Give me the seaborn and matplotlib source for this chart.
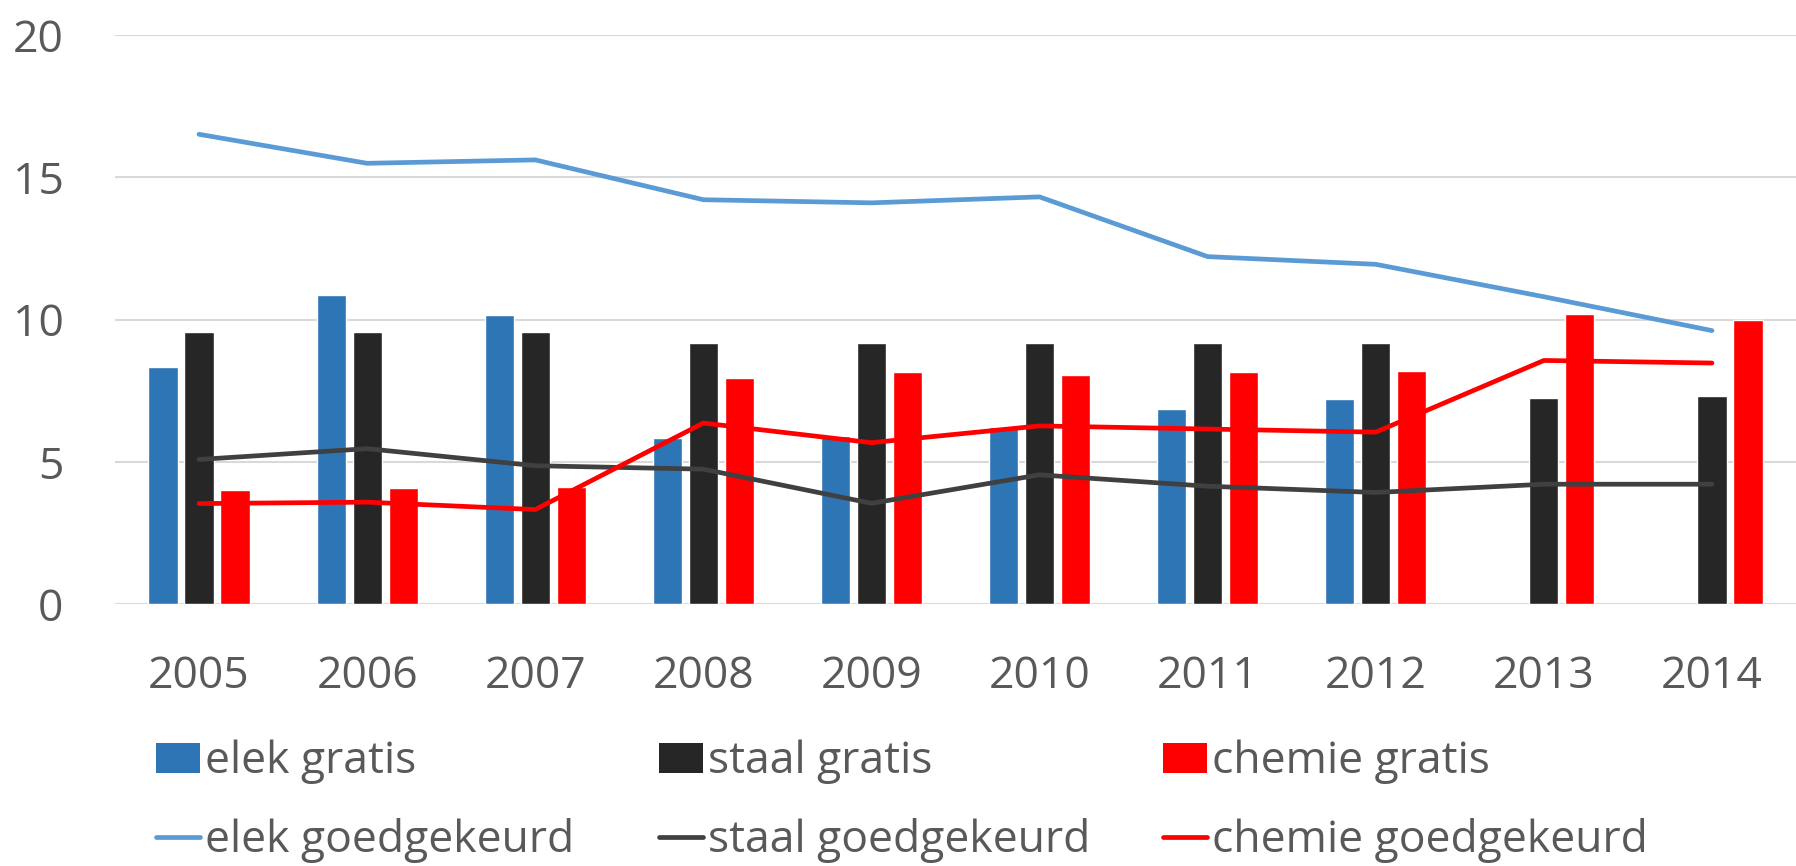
import numpy as np
import pandas as pd
import matplotlib
matplotlib.use("Agg")
import matplotlib.pyplot as plt
import seaborn as sns
from matplotlib.patches import Patch
from matplotlib.lines import Line2D

years = ["2005", "2006", "2007", "2008", "2009", "2010", "2011", "2012", "2013", "2014"]
elek_gratis = [8.33, 10.86, 10.15, 5.83, 5.92, 6.22, 6.85, 7.19, np.nan, np.nan]
staal_gratis = [9.57, 9.57, 9.57, 9.17, 9.17, 9.17, 9.17, 9.17, 7.24, 7.31]
chemie_gratis = [4.00, 4.06, 4.10, 7.93, 8.14, 8.04, 8.14, 8.18, 10.19, 10.00]
elek_goedgekeurd = [16.51, 15.49, 15.61, 14.21, 14.10, 14.31, 12.21, 11.94, 10.80, 9.61]
staal_goedgekeurd = [5.08, 5.46, 4.86, 4.74, 3.54, 4.54, 4.14, 3.92, 4.21, 4.21]
chemie_goedgekeurd = [3.53, 3.58, 3.32, 6.36, 5.67, 6.26, 6.15, 6.04, 8.56, 8.47]

bar_names = ["elek gratis", "staal gratis", "chemie gratis"]
line_names = ["elek goedgekeurd", "staal goedgekeurd", "chemie goedgekeurd"]
bar_colors = ["#2E75B6", "#262626", "#FF0000"]
line_colors = ["#5B9BD5", "#404040", "#FF0000"]

bars = pd.DataFrame({
    "year": years * 3,
    "value": elek_gratis + staal_gratis + chemie_gratis,
    "series": sum([[n] * len(years) for n in bar_names], []),
})
lines = pd.DataFrame({
    "year": years * 3,
    "value": elek_goedgekeurd + staal_goedgekeurd + chemie_goedgekeurd,
    "series": sum([[n] * len(years) for n in line_names], []),
})

sns.set_theme(style="white")
font = ["Open Sans", "DejaVu Sans"]
plt.rcParams["font.family"] = font
text_color = "#595959"
fs = 32
lw = 3.4

fig = plt.figure(figsize=(17.96, 8.66), dpi=100)
ax = fig.add_axes([115 / 1796, 1 - 604 / 866, 1 - 115 / 1796, (604 - 35) / 866])

sns.barplot(data=bars, x="year", y="value", hue="series", order=years,
            hue_order=bar_names, palette=bar_colors, width=0.643, gap=0.19,
            saturation=1, legend=False, ax=ax, errorbar=None)
n_before = len(ax.lines)
sns.lineplot(data=lines, x="year", y="value", hue="series", hue_order=line_names,
             palette=line_colors, linewidth=lw, legend=False, ax=ax, sort=False)
for ln in ax.lines[n_before:]:
    ln.set_linewidth(lw)
    ln.set_solid_capstyle("round")
    ln.set_solid_joinstyle("round")

ax.set_ylim(0, 20)
ax.set_xlim(-0.5, len(years) - 0.5)
ax.set_yticks([0, 5, 10, 15, 20])
ax.yaxis.grid(True, color="#D9D9D9", linewidth=1.5)
ax.set_axisbelow(True)
for s in ax.spines.values():
    s.set_visible(False)
ax.set_xlabel("")
ax.set_ylabel("")
ax.tick_params(axis="y", length=0, pad=37, labelsize=fs, labelcolor=text_color)
ax.tick_params(axis="x", length=0, pad=36, labelsize=fs, labelcolor=text_color)

col_x = [156, 659, 1163]
for bn, bc, ln, lc, cx in zip(bar_names, bar_colors, line_names, line_colors, col_x):
    handles = [Patch(facecolor=bc, edgecolor="none"),
               Line2D([], [], color=lc, linewidth=lw, solid_capstyle="round")]
    leg = fig.legend(handles, [bn, ln], ncol=1, loc="upper left",
                     bbox_to_anchor=(cx / 1796, 1 - 740 / 866), frameon=False,
                     fontsize=fs, handlelength=0.98, handleheight=0.68,
                     handletextpad=0.12, labelspacing=0.76,
                     borderpad=0, borderaxespad=0)
    for t in leg.get_texts():
        t.set_color(text_color)

fig.savefig("out.png", dpi=100)
